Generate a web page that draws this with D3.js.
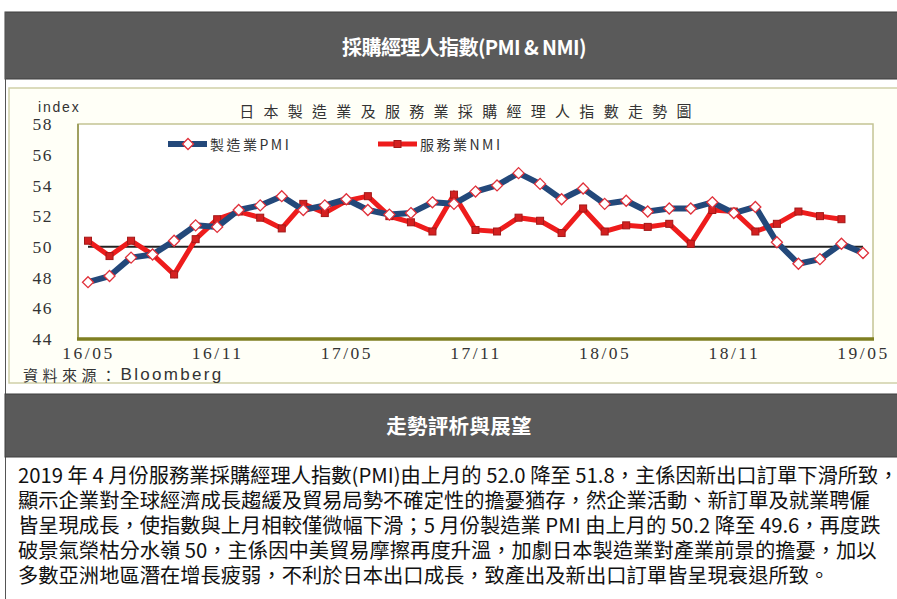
<!DOCTYPE html>
<html><head><meta charset="utf-8">
<script src="https://cdn.jsdelivr.net/npm/d3@7/dist/d3.min.js"></script>
<style>
html,body{margin:0;padding:0;background:#fff;overflow:hidden;}
svg{display:block;}
</style></head>
<body>
<script>
const months = ["16/05","16/06","16/07","16/08","16/09","16/10","16/11","16/12",
"17/01","17/02","17/03","17/04","17/05","17/06","17/07","17/08","17/09","17/10","17/11","17/12",
"18/01","18/02","18/03","18/04","18/05","18/06","18/07","18/08","18/09","18/10","18/11","18/12",
"19/01","19/02","19/03","19/04","19/05"];
const pmi = [47.7,48.1,49.3,49.5,50.4,51.4,51.3,52.4,52.7,53.3,52.4,52.7,53.1,52.4,52.1,52.2,52.9,52.8,53.6,54.0,54.8,54.1,53.1,53.8,52.8,53.0,52.3,52.5,52.5,52.9,52.2,52.6,50.3,48.9,49.2,50.2,49.6];
const nmi = [50.4,49.4,50.4,49.5,48.2,50.5,51.8,52.3,51.9,51.2,52.8,52.2,53.0,53.3,52.0,51.6,51.0,53.4,51.1,51.0,51.9,51.7,50.9,52.5,51.0,51.4,51.3,51.5,50.2,52.4,52.3,51.0,51.5,52.3,52.0,51.8];
const xTicks = ["16/05","16/11","17/05","17/11","18/05","18/11","19/05"];
const yTicks = [44,46,48,50,52,54,56,58];
const seriesNames = ["製造業PMI","服務業NMI"];
const headerTitle = "採購經理人指數(PMI & NMI)";
const chartTitle = "日本製造業及服務業採購經理人指數走勢圖";
const header2 = "走勢評析與展望";
const paragraph = [
"2019 年 4 月份服務業採購經理人指數(PMI)由上月的 52.0 降至 51.8，主係因新出口訂單下滑所致，",
"顯示企業對全球經濟成長趨緩及貿易局勢不確定性的擔憂猶存，然企業活動、新訂單及就業聘僱",
"皆呈現成長，使指數與上月相較僅微幅下滑；5 月份製造業 PMI 由上月的 50.2 降至 49.6，再度跌",
"破景氣榮枯分水嶺 50，主係因中美貿易摩擦再度升溫，加劇日本製造業對產業前景的擔憂，加以",
"多數亞洲地區潛在增長疲弱，不利於日本出口成長，致產出及新出口訂單皆呈現衰退所致。"
];

const W = 897, H = 599;
const svg = d3.select("body").append("svg").attr("width", W).attr("height", H);
const cjk = "'Noto Sans CJK TC','Noto Sans CJK SC',sans-serif";
const serif = "'Liberation Serif','DejaVu Serif',serif";

// table frame
svg.append("rect").attr("x",5).attr("y",12).attr("width",W).attr("height",67).attr("fill","#5a5a5a").attr("stroke","#3f3f3f").attr("stroke-width",1);
svg.append("text").attr("x",464).attr("y",46).attr("text-anchor","middle").attr("dominant-baseline","central")
  .attr("fill","#fff").attr("font-family",cjk).attr("font-weight","bold").attr("font-size",20).attr("letter-spacing",-0.6).text(headerTitle);
svg.append("line").attr("x1",5.5).attr("x2",5.5).attr("y1",12).attr("y2",H).attr("stroke","#555").attr("stroke-width",1);

// chart box
svg.append("rect").attr("x",9).attr("y",88).attr("width",W).attr("height",295).attr("fill","#fffff7").attr("stroke","#cfcfa8").attr("stroke-width",1.5);

const plot = {l:78, r:873, t:124, b:339};
svg.append("rect").attr("x",plot.l).attr("y",plot.t).attr("width",plot.r-plot.l).attr("height",plot.b-plot.t).attr("fill","#fff").attr("stroke","#c4c494").attr("stroke-width",1.5);
svg.append("line").attr("x1",plot.l).attr("x2",plot.l).attr("y1",plot.t).attr("y2",plot.b).attr("stroke","#a0a060").attr("stroke-width",2);
svg.append("line").attr("x1",plot.l-1).attr("x2",plot.r+1).attr("y1",plot.b).attr("y2",plot.b).attr("stroke","#7f7f22").attr("stroke-width",3.5);

const x = d3.scalePoint().domain(months).range([88, 863]);
const y = d3.scaleLinear().domain([44,58]).range([plot.b, plot.t]);

// axes
const ya = svg.append("g").attr("transform",`translate(${plot.l},0)`)
  .call(d3.axisLeft(y).tickValues(yTicks).tickSize(0).tickPadding(25).tickFormat(d3.format("d")));
ya.select(".domain").remove();
ya.selectAll("text").attr("font-family",serif).attr("font-size",17.5).attr("fill","#333").attr("letter-spacing",1.5);

const xa = svg.append("g").attr("transform",`translate(0,${plot.b})`)
  .call(d3.axisBottom(x).tickValues(xTicks).tickSize(0).tickPadding(8));
xa.select(".domain").remove();
xa.selectAll("text").attr("font-family",serif).attr("font-size",17.5).attr("fill","#333").attr("letter-spacing",2.5);

svg.append("text").attr("x",38).attr("y",107).attr("dominant-baseline","central").attr("font-family","'Liberation Sans',Arial,sans-serif")
  .attr("font-size",14).attr("letter-spacing",1.8).attr("fill","#333").text("index");
svg.append("text").attr("x",470).attr("y",110).attr("text-anchor","middle").attr("dominant-baseline","central")
  .attr("font-family",cjk).attr("font-size",15).attr("letter-spacing",9.3).attr("fill","#333").text(chartTitle);

// source
const src = svg.append("text").attr("x",23).attr("y",374).attr("dominant-baseline","central").attr("fill","#333");
src.append("tspan").attr("font-family",cjk).attr("font-size",15).attr("letter-spacing",4.5).text("資料來源：");
src.append("tspan").attr("font-family","'Liberation Sans',Arial,sans-serif").attr("font-size",17).attr("letter-spacing",2.3).text("Bloomberg");

// 50 line
svg.append("line").attr("x1",x(months[0])).attr("x2",x(months[months.length-1])).attr("y1",y(50)).attr("y2",y(50)).attr("stroke","#222").attr("stroke-width",2);

const blue = "#23487a", red = "#ee1c1c";
const line = d3.line().x((d,i)=>x(months[i])).y(d=>y(d));

svg.append("path").datum(nmi).attr("d",line).attr("fill","none").attr("stroke",red).attr("stroke-width",5).attr("stroke-linejoin","miter");
svg.append("g").selectAll("rect").data(nmi).join("rect")
  .attr("x",(d,i)=>x(months[i])-3.5).attr("y",d=>y(d)-3.5).attr("width",7).attr("height",7)
  .attr("fill","#d42020").attr("stroke","#a31818").attr("stroke-width",1);

svg.append("path").datum(pmi).attr("d",line).attr("fill","none").attr("stroke",blue).attr("stroke-width",6).attr("stroke-linejoin","round");
const diamond = s => `M0,${-s}L${s},0L0,${s}L${-s},0Z`;
svg.append("g").selectAll("path").data(pmi).join("path")
  .attr("transform",(d,i)=>`translate(${x(months[i])},${y(d)})`).attr("d",diamond(5.5))
  .attr("fill","#fff").attr("stroke","#e0303a").attr("stroke-width",1.3);

// legend
svg.append("line").attr("x1",168).attr("x2",207).attr("y1",144).attr("y2",144).attr("stroke",blue).attr("stroke-width",6);
svg.append("path").attr("transform","translate(188,144)").attr("d",diamond(5.5)).attr("fill","#fff").attr("stroke","#e0303a").attr("stroke-width",1.3);
svg.append("text").attr("x",210).attr("y",144).attr("dominant-baseline","central").attr("font-family",cjk).attr("font-size",14).attr("letter-spacing",2.5).attr("fill","#333").text(seriesNames[0]);
svg.append("line").attr("x1",378).attr("x2",417).attr("y1",144).attr("y2",144).attr("stroke",red).attr("stroke-width",5);
svg.append("rect").attr("x",394).attr("y",140.5).attr("width",7).attr("height",7).attr("fill","#d42020").attr("stroke","#a31818");
svg.append("text").attr("x",420).attr("y",144).attr("dominant-baseline","central").attr("font-family",cjk).attr("font-size",14).attr("letter-spacing",2.5).attr("fill","#333").text(seriesNames[1]);

// header 2
svg.append("rect").attr("x",5).attr("y",394).attr("width",W).attr("height",63).attr("fill","#5a5a5a").attr("stroke","#3f3f3f").attr("stroke-width",1);
svg.append("text").attr("x",459).attr("y",425).attr("text-anchor","middle").attr("dominant-baseline","central")
  .attr("fill","#fff").attr("font-family",cjk).attr("font-weight","bold").attr("font-size",20.5).attr("letter-spacing",0.3).text(header2);

// paragraph
svg.append("g").selectAll("text").data(paragraph).join("text")
  .attr("x",18).attr("y",(d,i)=>474+i*25).attr("dominant-baseline","central")
  .attr("font-family",cjk).attr("font-size",20.3).attr("fill","#111").text(d=>d);
</script>
</body></html>
